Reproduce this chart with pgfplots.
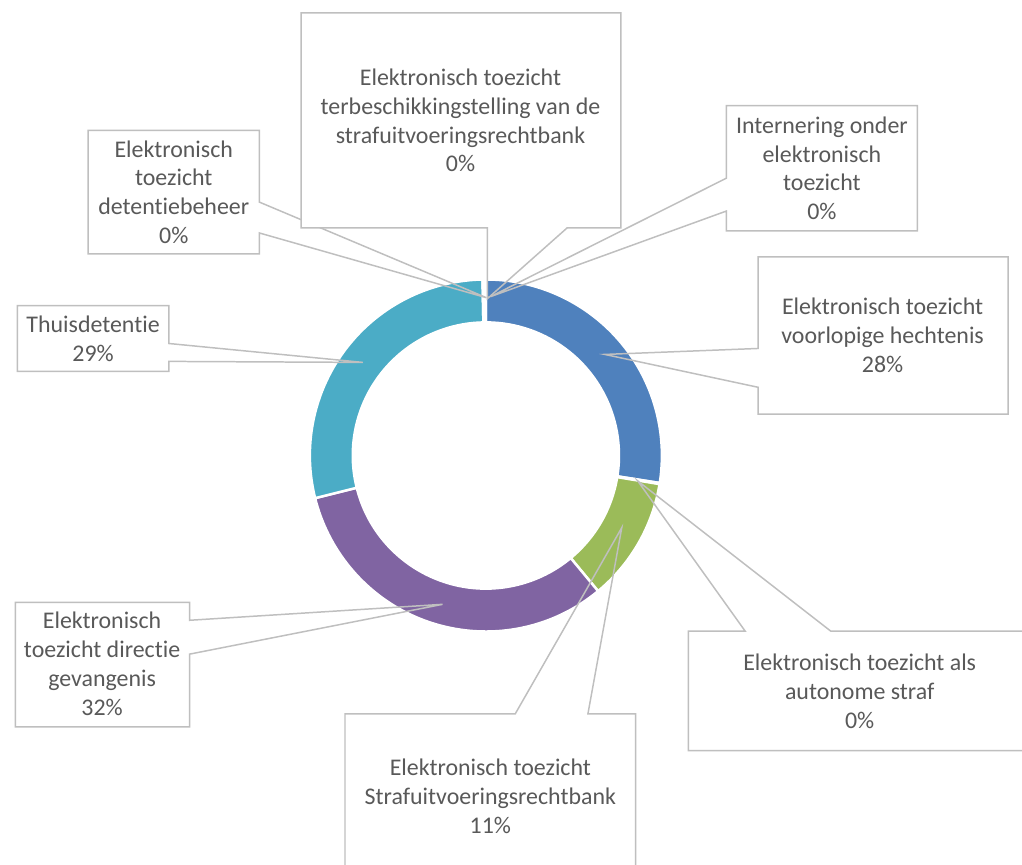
\documentclass[border=0pt]{standalone}
\usepackage{pgfplots}
\usepackage{pgfplotstable}
\pgfplotsset{compat=1.18}
\usepackage{fontspec}
\setmainfont{Carlito}[Ligatures={NoCommon}]

\definecolor{slice0}{HTML}{4F81BD}
\definecolor{slice1}{HTML}{C0504D}
\definecolor{slice2}{HTML}{9BBB59}
\definecolor{slice3}{HTML}{8064A2}
\definecolor{slice4}{HTML}{4BACC6}
\definecolor{slice5}{HTML}{F79646}
\definecolor{slice6}{HTML}{2C4D75}
\definecolor{slice7}{HTML}{772C2A}
\definecolor{labeltext}{HTML}{595959}
\definecolor{calloutline}{HTML}{BFBFBF}

% share of each category, clockwise from 12 o'clock
\pgfplotstableread{
name            value
voorlopige      27.5
autonome        0.1
strafuitvoering 11.4
directie        32.1
thuisdetentie   28.6
detentiebeheer  0.1
terbeschikking  0.1
internering     0.1
}\slices

\tikzset{
  callout/.style={draw=calloutline, line width=1.5pt, line join=miter},
  lbl/.style={text=labeltext, align=center, inner sep=0pt,
    font=\fontsize{24}{29}\selectfont},
}

\begin{document}
% cumulative start/end angles of the slices
\gdef\cum{0}
\foreach \i in {0,...,7}{%
  \pgfplotstablegetelem{\i}{value}\of\slices
  \pgfmathsetmacro\sa{90-3.6*\cum}%
  \pgfmathsetmacro\ea{90-3.6*(\cum+\pgfplotsretval)}%
  \pgfmathsetmacro\newcum{\cum+\pgfplotsretval}%
  \expandafter\xdef\csname sa\i\endcsname{\sa}%
  \expandafter\xdef\csname ea\i\endcsname{\ea}%
  \xdef\cum{\newcum}%
}
\begin{tikzpicture}
\begin{axis}[
    width=1022pt, height=868pt, scale only axis,
    xmin=0, xmax=1022, ymin=0, ymax=868,
    y dir=reverse,
    hide axis, clip=false,
]
% donut ring
\pgfplotsinvokeforeach{0,...,7}{
  \path[fill=slice#1, draw=white, line width=2.5pt, line join=miter,
        shift={(axis cs:483.5,457.5)}]
    (\csname sa#1\endcsname:176.8pt)
    arc[start angle=\csname sa#1\endcsname, end angle=\csname ea#1\endcsname, radius=176.8pt]
    -- (\csname ea#1\endcsname:133.7pt)
    arc[start angle=\csname ea#1\endcsname, end angle=\csname sa#1\endcsname, radius=133.7pt]
    -- cycle;
}

% detentiebeheer
\fill[white] (axis cs:84,131) rectangle (axis cs:256,255);
\draw[callout] (axis cs:84,131) -- (axis cs:256,131) -- (axis cs:256,203)
  -- (axis cs:484,299) -- (axis cs:256,234) -- (axis cs:256,255)
  -- (axis cs:84,255) -- cycle;
\node[lbl] at (axis cs:170,193) {Elektronisch\\toezicht\\detentiebeheer\\0\%};

% internering
\fill[white] (axis cs:725,106) rectangle (axis cs:917,232);
\draw[callout] (axis cs:725,106) -- (axis cs:917,106) -- (axis cs:917,232)
  -- (axis cs:725,232) -- (axis cs:725,212) -- (axis cs:488,298)
  -- (axis cs:725,179) -- cycle;
\node[lbl] at (axis cs:821,169) {Internering onder\\elektronisch\\toezicht\\0\%};

% terbeschikkingstelling
\fill[white] (axis cs:298,13) rectangle (axis cs:619,229);
\draw[callout] (axis cs:298,13) -- (axis cs:619,13) -- (axis cs:619,229)
  -- (axis cs:565,229) -- (axis cs:485,300) -- (axis cs:485,229)
  -- (axis cs:298,229) -- cycle;
\node[lbl] at (axis cs:458,121) {Elektronisch toezicht\\terbeschikkingstelling van de\\strafuitvoeringsrechtbank\\0\%};

% voorlopige hechtenis
\fill[white] (axis cs:757,258) rectangle (axis cs:1008,416);
\draw[callout] (axis cs:757,258) -- (axis cs:1008,258) -- (axis cs:1008,416)
  -- (axis cs:757,416) -- (axis cs:757,389) -- (axis cs:603,356)
  -- (axis cs:757,350) -- cycle;
\node[lbl] at (axis cs:882,337) {Elektronisch toezicht\\voorlopige hechtenis\\28\%};

% thuisdetentie
\fill[white] (axis cs:13,307) rectangle (axis cs:165,373);
\draw[callout] (axis cs:13,307) -- (axis cs:165,307) -- (axis cs:165,345)
  -- (axis cs:360,364) -- (axis cs:165,363) -- (axis cs:165,373)
  -- (axis cs:13,373) -- cycle;
\node[lbl] at (axis cs:89,340) {Thuisdetentie\\29\%};

% directie gevangenis
\fill[white] (axis cs:11,605) rectangle (axis cs:186,730);
\draw[callout] (axis cs:11,605) -- (axis cs:186,605) -- (axis cs:186,623)
  -- (axis cs:440,607) -- (axis cs:186,657) -- (axis cs:186,730)
  -- (axis cs:11,730) -- cycle;
\node[lbl] at (axis cs:98,667) {Elektronisch\\toezicht directie\\gevangenis\\32\%};

% autonome straf
\fill[white] (axis cs:687,634) rectangle (axis cs:1031,754);
\draw[callout] (axis cs:687,634) -- (axis cs:744,634) -- (axis cs:636,483)
  -- (axis cs:830,634) -- (axis cs:1031,634) -- (axis cs:1031,754)
  -- (axis cs:687,754) -- cycle;
\node[lbl] at (axis cs:859,694) {Elektronisch toezicht als\\autonome straf\\0\%};

% strafuitvoeringsrechtbank
\fill[white] (axis cs:342,717) rectangle (axis cs:634,883);
\draw[callout] (axis cs:342,717) -- (axis cs:513,717) -- (axis cs:620,530)
  -- (axis cs:586,717) -- (axis cs:634,717) -- (axis cs:634,883)
  -- (axis cs:342,883) -- cycle;
\node[lbl] at (axis cs:488,800) {Elektronisch toezicht\\Strafuitvoeringsrechtbank\\11\%};
\end{axis}
\pgfresetboundingbox
\path[use as bounding box] (current axis.south west) rectangle (current axis.north east);
\end{tikzpicture}
\end{document}
